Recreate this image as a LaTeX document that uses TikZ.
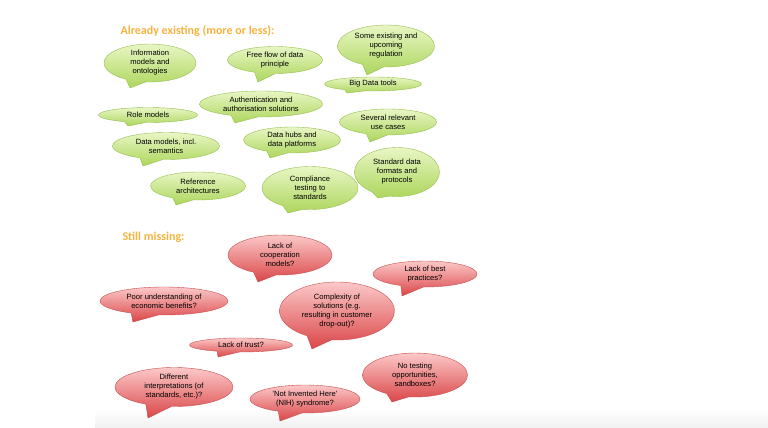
\documentclass[tikz,border=0pt]{standalone}
\usepackage{fontspec}
\setmainfont{Liberation Sans}
\newfontfamily\headfont{Carlito}
\usetikzlibrary{shapes.callouts}
\definecolor{headorange}{RGB}{248,178,62}
\definecolor{greentop}{RGB}{232,246,196}
\definecolor{greenbot}{RGB}{172,214,92}
\definecolor{greenline}{RGB}{150,190,80}
\definecolor{redtop}{RGB}{252,200,200}
\definecolor{redbot}{RGB}{218,70,72}
\definecolor{redline}{RGB}{200,80,80}
\begin{document}
\begin{tikzpicture}[x=1pt, y=1pt,
   bubble/.style={ellipse callout, callout pointer arc=26, inner sep=0pt,
     align=center, font=\fontsize{7.6}{9}\selectfont, line width=0.4pt},
   have/.style={bubble, draw=greenline, top color=greentop, bottom color=greenbot},
   miss/.style={bubble, draw=redline, top color=redtop, bottom color=redbot},
   head/.style={anchor=base west, text=headorange, font=\headfont\bfseries\fontsize{12}{14}\selectfont}]

\useasboundingbox (0,0) rectangle (768,-428);
\shade[top color=white, bottom color=black!6] (95,-410) rectangle (768,-428);

\node[head] (already) at (117,-35) {Already existing (more or less):};

\node[have, minimum width=92pt, minimum height=38pt, callout absolute pointer={(130,-88)}]
   (infomod) at (150,-63) {Information\\models and\\ontologies};
\node[have, minimum width=95pt, minimum height=27pt, callout absolute pointer={(258,-82)}]
   (freeflow) at (275,-60) {Free flow of data\\principle};
\node[have, minimum width=97pt, minimum height=42pt, callout absolute pointer={(367,-75)}]
   (regul) at (386,-46) {Some existing and\\upcoming\\regulation};
\node[have, minimum width=97pt, minimum height=14pt, callout absolute pointer={(347,-93)}]
   (bigdata) at (373,-84) {Big Data tools};
\node[have, minimum width=123pt, minimum height=26pt, callout absolute pointer={(235,-123)}]
   (auth) at (261,-104) {Authentication and\\authorisation solutions};
\node[have, minimum width=99pt, minimum height=15pt, callout absolute pointer={(128,-126)}]
   (role) at (148,-115) {Role models};
\node[have, minimum width=97pt, minimum height=26pt, callout absolute pointer={(370,-142)}]
   (usecase) at (388,-122) {Several relevant\\use cases};
\node[have, minimum width=107pt, minimum height=27pt, callout absolute pointer={(143,-166)}]
   (datamod) at (166,-146) {Data models, incl.\\semantics};
\node[have, minimum width=97pt, minimum height=26pt, callout absolute pointer={(270,-158)}]
   (hubs) at (292,-140) {Data hubs and\\data platforms};
\node[have, minimum width=85pt, minimum height=49pt, callout absolute pointer={(378,-198)}]
   (formats) at (397,-172) {Standard data\\formats and\\protocols};
\node[have, minimum width=95pt, minimum height=28pt, callout absolute pointer={(176,-205)}]
   (refarch) at (198,-186) {Reference\\architectures};
\node[have, minimum width=96pt, minimum height=43pt, callout absolute pointer={(288,-213)}]
   (compl) at (310,-188) {Compliance\\testing to\\standards};

\node[head] (missing) at (119,-240) {Still missing:};

\node[miss, minimum width=104pt, minimum height=40pt, callout absolute pointer={(258,-282)}]
   (coop) at (280,-255) {Lack of\\cooperation\\models?};
\node[miss, minimum width=104pt, minimum height=26pt, callout absolute pointer={(402,-296)}]
   (bestpr) at (425,-274) {Lack of best\\practices?};
\node[miss, minimum width=128pt, minimum height=28pt, callout absolute pointer={(133,-322)}]
   (poor) at (164,-301) {Poor understanding of\\economic benefits?};
\node[miss, minimum width=115pt, minimum height=58pt, callout absolute pointer={(312,-349)}]
   (complex) at (337,-311) {Complexity of\\solutions (e.g.\\resulting in customer\\drop-out)?};
\node[miss, minimum width=103pt, minimum height=14pt, callout absolute pointer={(218,-357)}]
   (trust) at (241,-345) {Lack of trust?};
\node[miss, minimum width=118pt, minimum height=39pt, callout absolute pointer={(148,-418)}]
   (interp) at (174,-387) {Different\\interpretations (of\\standards, etc.)?};
\node[miss, minimum width=110pt, minimum height=28pt, callout absolute pointer={(280,-421)}]
   (nih) at (305,-399) {'Not Invented Here'\\(NIH) syndrome?};
\node[miss, minimum width=105pt, minimum height=44pt, callout absolute pointer={(392,-402)}]
   (notest) at (415,-375) {No testing\\opportunities,\\sandboxes?};

\end{tikzpicture}
\end{document}
